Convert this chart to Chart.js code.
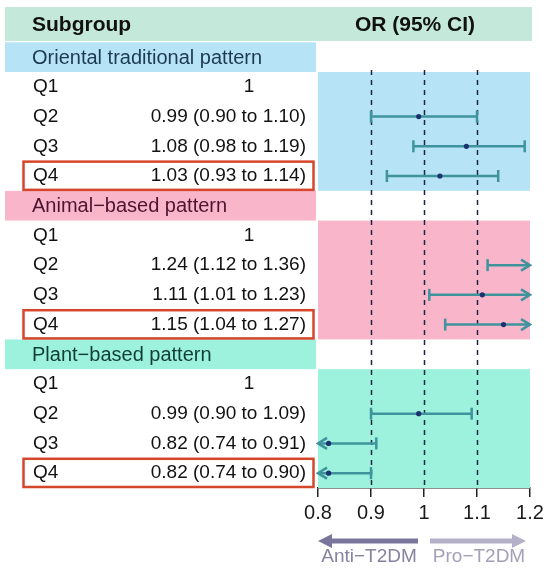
<!DOCTYPE html>
<html>
<head>
<meta charset="utf-8">
<script src="https://cdn.jsdelivr.net/npm/chart.js@4"></script>
<style>
  html, body { margin: 0; padding: 0; background: #fff; }
  #wrap { width: 550px; height: 572px; }
</style>
</head>
<body>
<div id="wrap"><canvas id="forest"></canvas></div>
<script>
// forest plot data
const groups = ['Oriental traditional pattern', 'Animal\u2212based pattern', 'Plant\u2212based pattern'];
const quartiles = ['Q1', 'Q2', 'Q3', 'Q4'];
const orOriental = [1, 0.99, 1.08, 1.03];
const loOriental = [null, 0.90, 0.98, 0.93];
const hiOriental = [null, 1.10, 1.19, 1.14];
const orAnimal = [1, 1.24, 1.11, 1.15];
const loAnimal = [null, 1.12, 1.01, 1.04];
const hiAnimal = [null, 1.36, 1.23, 1.27];
const orPlant = [1, 0.99, 0.82, 0.82];
const loPlant = [null, 0.90, 0.74, 0.74];
const hiPlant = [null, 1.09, 0.91, 0.90];
const xTicks = [0.8, 0.9, 1, 1.1, 1.2];
const refLines = [0.9, 1, 1.1];

const orAll = [orOriental, orAnimal, orPlant];
const loAll = [loOriental, loAnimal, loPlant];
const hiAll = [hiOriental, hiAnimal, hiPlant];

const bandColors = ['#b7e3f6', '#f9b6ca', '#9cf2dc'];
const headTextColors = ['#1d3a52', '#4d1430', '#113f35'];
const barColor = '#3f939d';

// build rows: header row g*5, quartile rows g*5+1+q
const points = [];
const bars = [];
groups.forEach((g, gi) => {
    quartiles.forEach((q, qi) => {
        const row = gi * 5 + 1 + qi;
        if (loAll[gi][qi] !== null) {
            points.push({ x: orAll[gi][qi], y: row });
            bars.push({ row: row, lo: loAll[gi][qi], hi: hiAll[gi][qi] });
        }
    });
});

function fmt(v) { return v.toFixed(2); }

const forestPlugin = {
    id: 'forest',
    beforeDatasetsDraw(chart) {
        const { ctx, chartArea, scales } = chart;
        const xs = scales.x, ys = scales.y;
        ctx.save();
        // header strip
        ctx.fillStyle = '#c4e8d9';
        ctx.fillRect(5, 7, 527, 34);
        // section bands
        groups.forEach((g, gi) => {
            const hr = gi * 5;
            const top = ys.getPixelForValue(hr - 0.5), mid = ys.getPixelForValue(hr + 0.5);
            const bot = ys.getPixelForValue(hr + 4.5);
            ctx.fillStyle = bandColors[gi];
            ctx.fillRect(5, top, 311, mid - top);
            ctx.fillRect(chartArea.left, mid, chartArea.right - chartArea.left, bot - mid);
        });
        // reference lines
        ctx.strokeStyle = '#1b2740';
        ctx.lineWidth = 1.5;
        ctx.setLineDash([5, 5]);
        refLines.forEach(v => {
            const px = Math.round(xs.getPixelForValue(v)) + 0.5;
            ctx.beginPath();
            ctx.moveTo(px, chartArea.top - 2);
            ctx.lineTo(px, chartArea.bottom);
            ctx.stroke();
        });
        ctx.setLineDash([]);
        // CI bars
        ctx.strokeStyle = barColor;
        ctx.lineWidth = 2.5;
        const xmin = xs.min, xmax = xs.max;
        bars.forEach(b => {
            const py = ys.getPixelForValue(b.row);
            const x1 = xs.getPixelForValue(Math.max(b.lo, xmin));
            const x2 = xs.getPixelForValue(Math.min(b.hi, xmax));
            ctx.beginPath();
            ctx.moveTo(x1, py);
            ctx.lineTo(x2, py);
            ctx.stroke();
            [[b.lo, x1, -1], [b.hi, x2, 1]].forEach(([v, px, dir]) => {
                ctx.beginPath();
                if ((dir < 0 && v < xmin) || (dir > 0 && v > xmax)) {
                    ctx.moveTo(px - dir * 9, py - 5.5);
                    ctx.lineTo(px, py);
                    ctx.lineTo(px - dir * 9, py + 5.5);
                } else {
                    ctx.moveTo(px, py - 6);
                    ctx.lineTo(px, py + 6);
                }
                ctx.stroke();
            });
        });
        ctx.restore();
    },
    afterDraw(chart) {
        const { ctx, scales } = chart;
        const xs = scales.x, ys = scales.y;
        ctx.save();
        ctx.textBaseline = 'middle';
        ctx.fillStyle = '#111';
        ctx.font = 'bold 21px "Liberation Sans", Arial, sans-serif';
        ctx.textAlign = 'left';
        ctx.fillText('Subgroup', 32, 25);
        ctx.textAlign = 'center';
        ctx.fillText('OR (95% CI)', 415, 25);
        groups.forEach((g, gi) => {
            const hr = gi * 5;
            ctx.font = '20px "Liberation Sans", Arial, sans-serif';
            ctx.textAlign = 'left';
            ctx.fillStyle = headTextColors[gi];
            ctx.fillText(g, 32, ys.getPixelForValue(hr) + 1);
            ctx.font = '19px "Liberation Sans", Arial, sans-serif';
            ctx.fillStyle = '#111';
            quartiles.forEach((q, qi) => {
                const py = ys.getPixelForValue(hr + 1 + qi);
                ctx.textAlign = 'left';
                ctx.fillText(q, 33, py);
                if (loAll[gi][qi] === null) {
                    ctx.textAlign = 'center';
                    ctx.fillText(String(orAll[gi][qi]), 249, py);
                } else {
                    ctx.textAlign = 'right';
                    ctx.fillText(fmt(orAll[gi][qi]) + ' (' + fmt(loAll[gi][qi]) + ' to ' + fmt(hiAll[gi][qi]) + ')', 306, py);
                }
            });
            // highlight Q4
            const t = ys.getPixelForValue(hr + 3.5), bt = ys.getPixelForValue(hr + 4.5);
            ctx.strokeStyle = '#d5462b';
            ctx.lineWidth = 2.5;
            ctx.strokeRect(23.5, t + 0.5, 290, bt - t - 1.5);
        });
        // direction arrows under the axis
        const xr = xs.getPixelForValue(1);
        const ay = 541;
        const arrow = (from, to, color) => {
            const dir = Math.sign(to - from);
            ctx.strokeStyle = color;
            ctx.fillStyle = color;
            ctx.lineWidth = 5;
            ctx.beginPath();
            ctx.moveTo(from, ay);
            ctx.lineTo(to - dir * 10, ay);
            ctx.stroke();
            ctx.beginPath();
            ctx.moveTo(to, ay);
            ctx.lineTo(to - dir * 14, ay - 7);
            ctx.lineTo(to - dir * 14, ay + 7);
            ctx.closePath();
            ctx.fill();
        };
        arrow(xr - 6, xs.getPixelForValue(0.8), '#7a759d');
        arrow(xr + 6, xs.getPixelForValue(1.2) - 4, '#b3b0c8');
        ctx.font = '19px "Liberation Sans", Arial, sans-serif';
        ctx.textAlign = 'center';
        ctx.fillStyle = '#86829f';
        ctx.fillText('Anti\u2212T2DM', (xs.getPixelForValue(0.8) + xr) / 2 - 2, 557);
        ctx.fillStyle = '#a3a0b8';
        ctx.fillText('Pro\u2212T2DM', (xs.getPixelForValue(1.2) + xr) / 2 + 2, 557);
        ctx.restore();
    }
};

new Chart(document.getElementById('forest'), {
    type: 'scatter',
    data: {
        datasets: [{
            data: points,
            pointRadius: 2.6,
            pointBackgroundColor: '#1c3170',
            pointBorderWidth: 0,
            pointHoverRadius: 2.6
        }]
    },
    options: {
        responsive: true,
        maintainAspectRatio: false,
        animation: false,
        layout: { padding: { left: 318, right: 20, top: 72, bottom: 0 } },
        plugins: { legend: { display: false }, tooltip: { enabled: false } },
        scales: {
            x: {
                type: 'linear',
                min: 0.8,
                max: 1.2,
                afterBuildTicks: (scale) => { scale.ticks = xTicks.map(v => ({ value: v })); },
                afterFit: (scale) => { scale.height = 84; },
                grid: { drawOnChartArea: false, drawTicks: true, tickLength: 9, color: '#222', lineWidth: 1.5 },
                border: { display: true, color: '#222', width: 1.5 },
                ticks: {
                    color: '#1a1a1a',
                    padding: 4,
                    maxRotation: 0,
                    font: { family: '"Liberation Sans", Arial, sans-serif', size: 20 },
                    callback: (v) => String(v)
                }
            },
            y: {
                type: 'linear',
                min: 0.5,
                max: 14.5,
                reverse: true,
                display: false
            }
        }
    },
    plugins: [forestPlugin]
});
</script>
</body>
</html>
